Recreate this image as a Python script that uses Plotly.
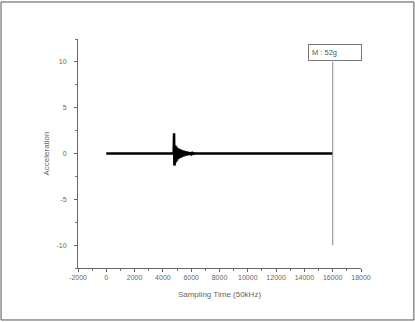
import plotly.graph_objects as go

# Sample index (50 kHz) and acceleration values
base_t = [0, 4760]
base_v = [0, 0]
burst_t = [4790, 4810, 4830, 4850, 4870, 4890, 4910, 4930, 4950, 4970, 4990, 5010,
           5030, 5060, 5090, 5120, 5150, 5180, 5210, 5250, 5290, 5330, 5370, 5420,
           5470, 5520, 5580, 5640, 5700, 5760, 5820, 5880, 5940, 6000, 6070, 6140,
           6210, 6300]
burst_v = [2.2, -1.3, 1.2, -1.0, 0.9, -0.9, 0.8, -0.8, 0.75, -0.7, 0.7, -0.65,
           0.6, -0.6, 0.55, -0.55, 0.5, -0.5, 0.45, -0.45, 0.4, -0.4, 0.35, -0.35,
           0.3, -0.28, 0.25, -0.22, 0.2, -0.17, 0.14, -0.12, 0.1, -0.08, 0.06, -0.04,
           0.03, 0.0]
tail_t = [16000]
tail_v = [0]
marker_t = [16000, 16000]
marker_v = [10, -10]
label_text = "M : 52g"

x_ticks = [-2000, 0, 2000, 4000, 6000, 8000, 10000, 12000, 14000, 16000, 18000]
y_ticks = [-10, -5, 0, 5, 10]

t = base_t + burst_t + tail_t
v = base_v + burst_v + tail_v

fig = go.Figure()
fig.add_trace(go.Scatter(x=t, y=v, mode="lines",
                         line=dict(color="black", width=2.5), showlegend=False))
fig.add_trace(go.Scatter(x=marker_t, y=marker_v, mode="lines",
                         line=dict(color="#8a8a8a", width=1), showlegend=False))

fig.add_annotation(x=16150, y=11.05, xref="x", yref="y", text=label_text,
                   showarrow=False, font=dict(size=7.5, color="#555",
                                              family="Liberation Sans"),
                   bordercolor="#777", borderwidth=1, borderpad=3,
                   width=46, align="left", bgcolor="white")

axis_font = dict(size=7, color="#666", family="Liberation Sans")
fig.update_xaxes(range=[-2000, 18000], tickvals=x_ticks,
                 ticktext=[str(x) for x in x_ticks],
                 showgrid=False, zeroline=False, showline=True, linecolor="#666",
                 linewidth=1, ticks="outside", ticklen=3, tickcolor="#666",
                 minor=dict(ticks="outside", ticklen=2, dtick=1000, tick0=0,
                            tickcolor="#777"),
                 tickfont=axis_font,
                 title=dict(text="Sampling Time (50kHz)",
                            font=dict(size=8, color="#666",
                                      family="Liberation Sans"), standoff=10))
fig.update_yaxes(range=[-12.5, 12.5], tickvals=y_ticks,
                 ticktext=[str(y) for y in y_ticks],
                 showgrid=False, zeroline=False, showline=True, linecolor="#666",
                 linewidth=1, ticks="outside", ticklen=3, tickcolor="#666",
                 minor=dict(ticks="outside", ticklen=2, dtick=2.5, tick0=0,
                            tickcolor="#777"),
                 tickfont=axis_font, ticklabelstandoff=6,
                 title=dict(text="Acceleration",
                            font=dict(size=8, color="#666",
                                      family="Liberation Sans"), standoff=5))

# outer frame
fig.add_shape(type="rect", xref="paper", yref="paper",
              x0=-0.272, x1=1.187, y0=-0.227, y1=1.1616,
              line=dict(color="#555", width=1))

fig.update_layout(width=415, height=322, margin=dict(l=78, r=54, t=39, b=54),
                  paper_bgcolor="white", plot_bgcolor="white",
                  font=dict(family="Liberation Sans"))

fig.write_html("out.html")
